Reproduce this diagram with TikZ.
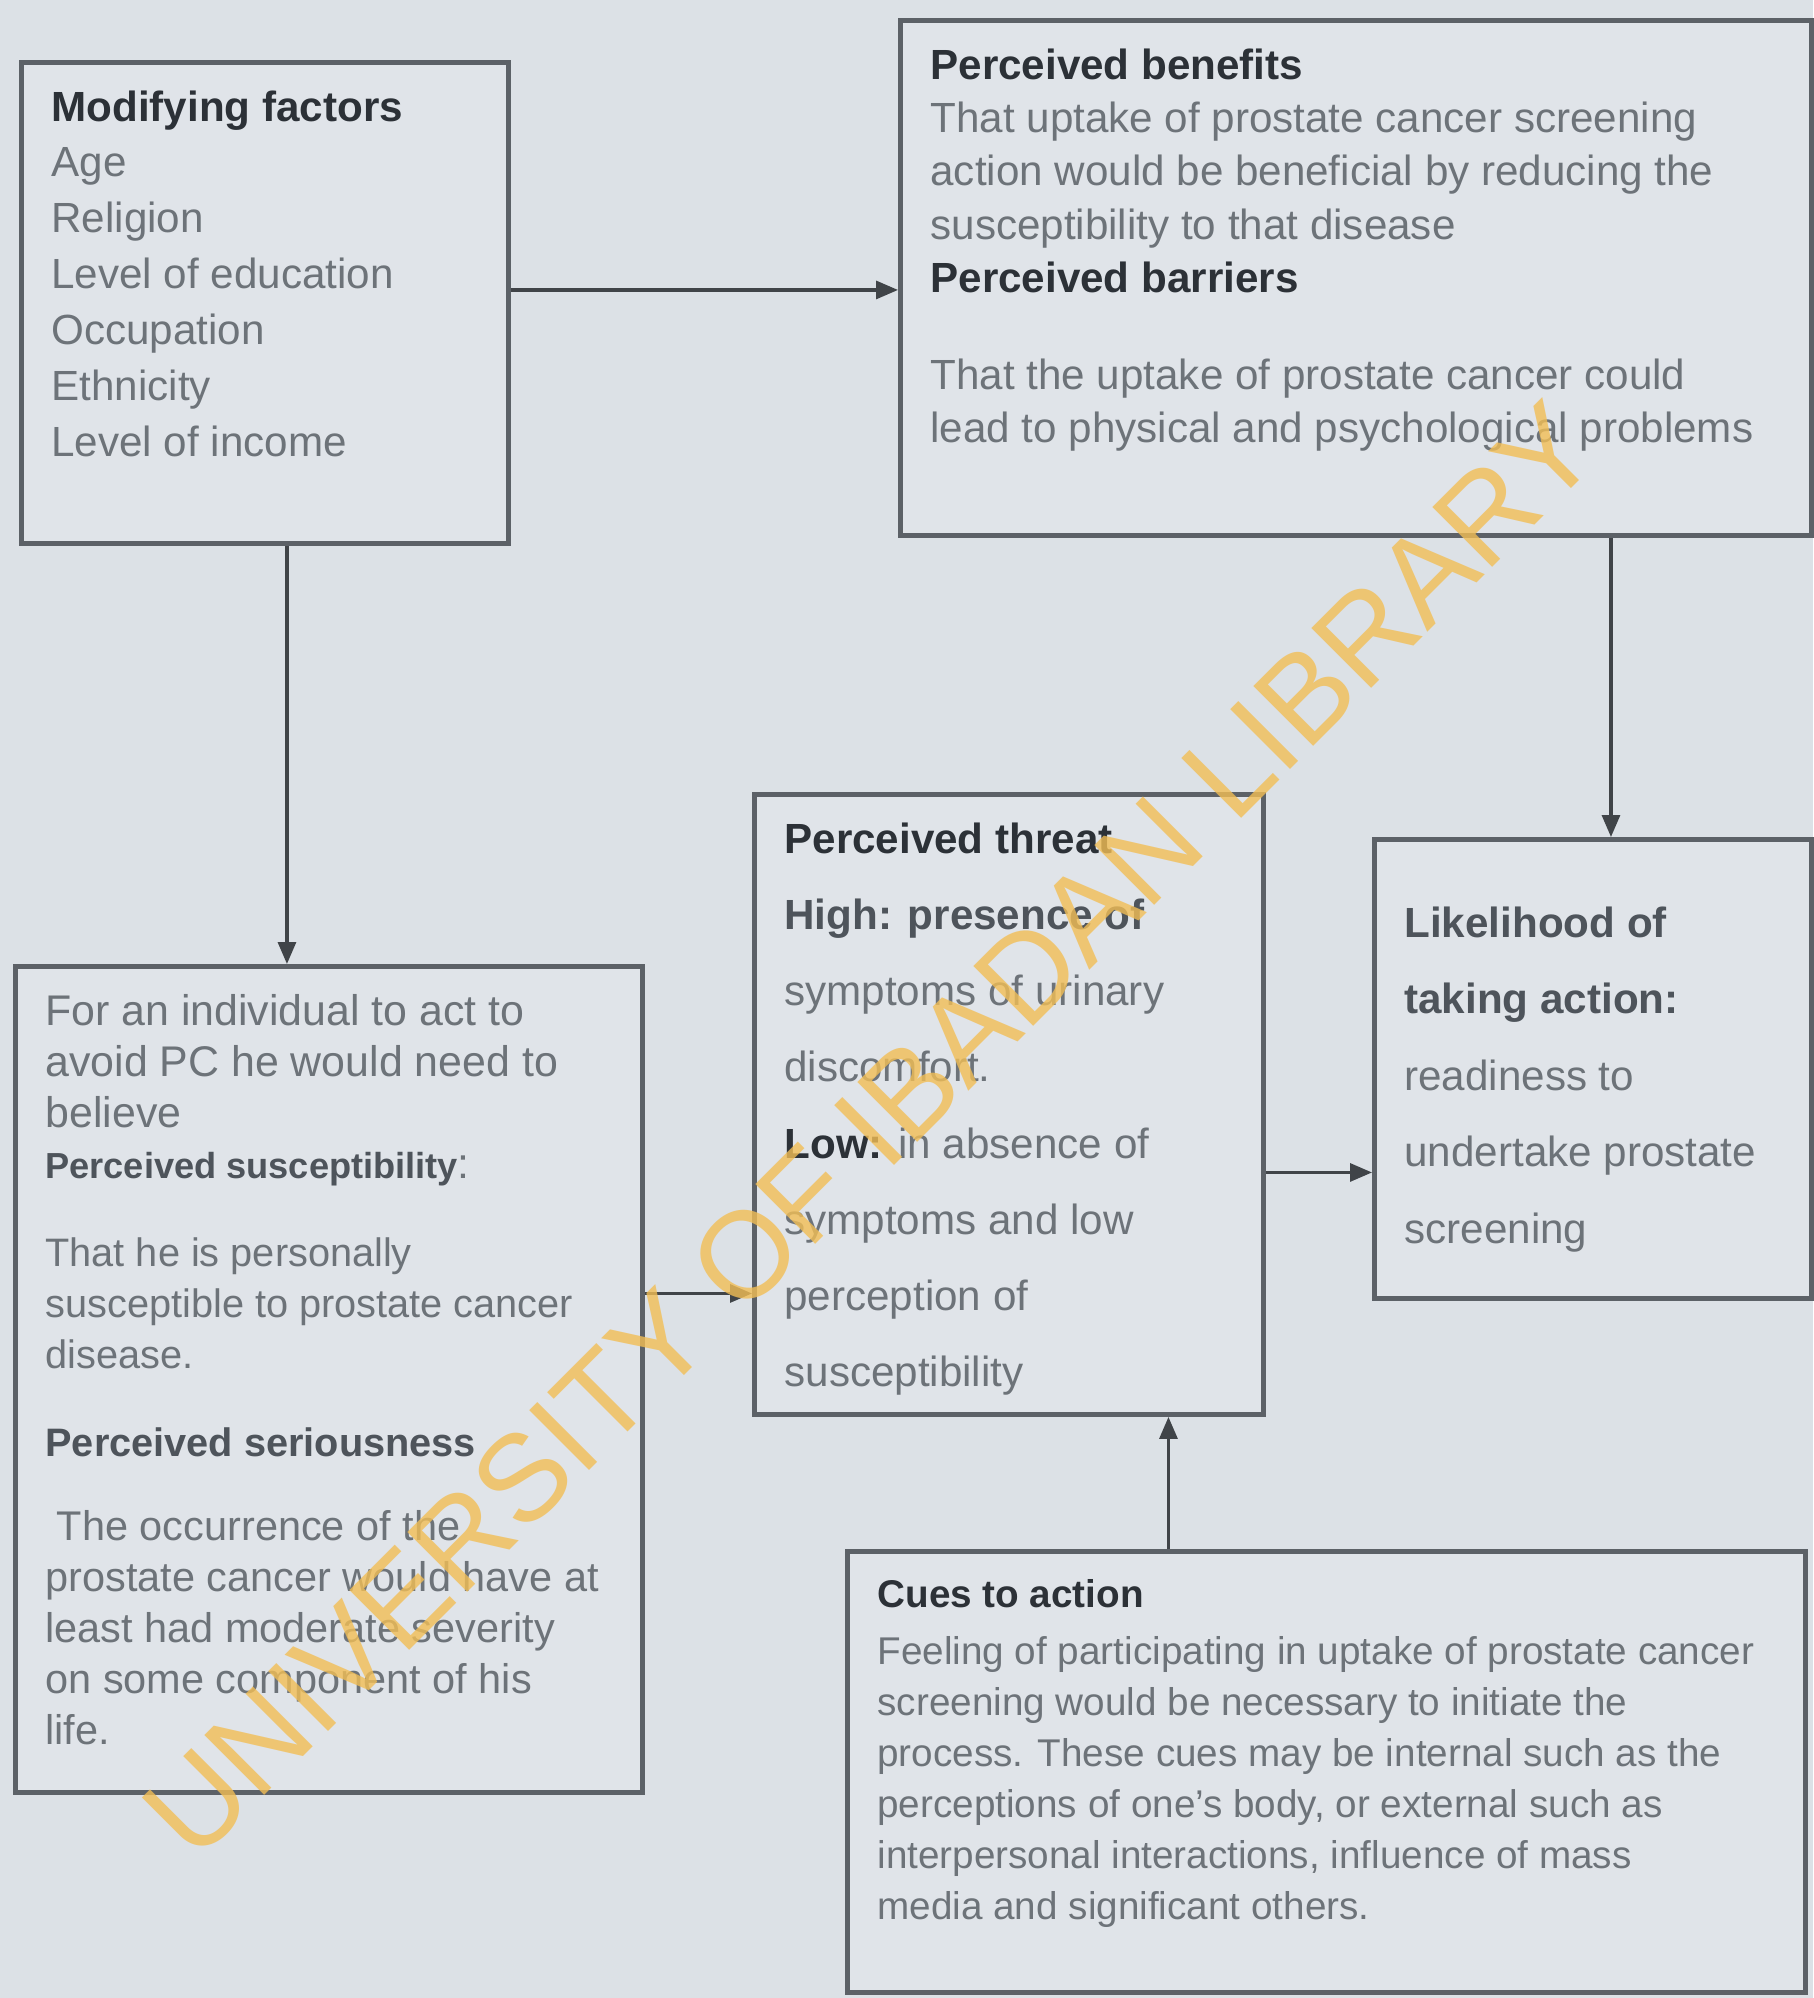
\documentclass[tikz,border=0pt]{standalone}
\usepackage{fontspec}
\setmainfont{Liberation Sans}
\usetikzlibrary{positioning,arrows.meta}

\definecolor{paper}{HTML}{DCE1E6}
\definecolor{boxfill}{HTML}{E0E4E9}
\definecolor{boxline}{HTML}{5C6167}
\definecolor{bodytext}{HTML}{6D7379}
\definecolor{headtext}{HTML}{2C3137}
\definecolor{subhead}{HTML}{4E545B}
\definecolor{stampink}{HTML}{F2BE55}

\tikzset{
  factorbox/.style={draw=boxline,line width=1.4pt,fill=boxfill,anchor=north west,
    inner xsep=0.3cm,inner ysep=0.28cm,text=bodytext},
  link/.style={draw=boxline!70!black,line width=0.9pt,-{Triangle[length=2.2mm,width=1.8mm]}},
  stampmark/.style={rotate=45,inner sep=0pt,text=stampink,text opacity=0.8,
    font=\fontsize{35}{35}\selectfont},
}
\newcommand{\head}[1]{\textbf{\color{headtext}#1}}

\begin{document}
\begin{tikzpicture}
  \fill[paper] (0,0) rectangle (18.13,-19.98);
  \useasboundingbox (0,0) rectangle (18.13,-19.98);

  \node[factorbox] (factors) at (0.19,-0.60) {\parbox[t][4.25cm][t]{4.27cm}{\raggedright
    \fontsize{12}{15.9}\selectfont
    \head{Modifying factors}\\
    Age\\
    Religion\\
    Level of education\\
    Occupation\\
    Ethnicity\\
    Level of income}};

  \node[factorbox] (benefits) at (8.98,-0.18) {\parbox[t][4.59cm][t]{8.51cm}{\raggedright
    \fontsize{12}{15.2}\selectfont
    \head{Perceived benefits}\\
    That uptake of prostate cancer screening\\
    action would be beneficial by reducing the\\
    susceptibility to that disease\\
    \head{Perceived barriers}\\[4.3mm]
    That the uptake of prostate cancer could\\
    lead to physical and psychological problems}};

  \node[factorbox] (belief) at (0.13,-9.64) {\parbox[t][7.70cm][t]{5.67cm}{\raggedright
    \fontsize{12.2}{14.5}\selectfont
    For an individual to act to\\
    avoid PC he would need to\\
    believe\\
    {\fontsize{10.3}{14.5}\selectfont\bfseries\color{subhead}Perceived susceptibility}:\\[3.7mm]
    {\fontsize{11.3}{14.5}\selectfont That he is personally\\
    susceptible to prostate cancer\\
    disease.}\\[3.7mm]
    {\fontsize{11.3}{14.5}\selectfont\bfseries\color{subhead}Perceived seriousness}\\[3.3mm]
    {\fontsize{11.8}{14.5}\selectfont\ The occurrence of the\\
    prostate cancer would have at\\
    least had moderate severity\\
    on some component of his\\
    life.}}};

  \node[factorbox] (threat) at (7.52,-7.92) {\parbox[t][5.64cm][t]{4.49cm}{\raggedright
    \fontsize{12}{21.7}\selectfont
    \head{Perceived threat}\\
    \textbf{\color{subhead}High: presence of}\\
    symptoms of urinary\\
    discomfort.\\
    \head{Low:} in absence of\\
    symptoms and low\\
    perception of\\
    susceptibility}};

  \node[factorbox] (likelihood) at (13.72,-8.37) {\parbox[t][4.03cm][t]{3.77cm}{\raggedright
    \fontsize{12}{21.8}\selectfont
    \vspace*{0.39cm}
    \textbf{\color{subhead}Likelihood of}\\
    \textbf{\color{subhead}taking action:}\\
    readiness to\\
    undertake prostate\\
    screening}};

  \node[factorbox] (cues) at (8.45,-15.49) {\parbox[t][3.85cm][t]{8.98cm}{\raggedright
    \fontsize{11}{14.5}\selectfont
    \head{Cues to action}\\[0.6mm]
    Feeling of participating in uptake of prostate cancer\\
    screening would be necessary to initiate the\\
    process. These cues may be internal such as the\\
    perceptions of one's body, or external such as\\
    interpersonal interactions, influence of mass\\
    media and significant others.}};

  \draw[link] ([yshift=0.13cm]factors.east) -- ([yshift=0.13cm]factors.east -| benefits.west);
  \draw[link] ([xshift=0.22cm]factors.south) -- ([xshift=0.22cm]factors.south |- belief.north);
  \draw[link] ([xshift=0.18cm]likelihood.north |- benefits.south) -- ([xshift=0.18cm]likelihood.north);
  \draw[link] ([yshift=0.86cm]belief.east) -- ([yshift=0.86cm]belief.east -| threat.west);
  \draw[link] ([yshift=-0.68cm]threat.east) -- ([yshift=-0.68cm]threat.east -| likelihood.west);
  \draw[link] ([xshift=1.595cm]threat.south |- cues.north) -- ([xshift=1.595cm]threat.south);

  \node[stampmark] (stamp) at (8.70,-11.30) {UNIVERSITY OF IBADAN LIBRARY};
\end{tikzpicture}
\end{document}
